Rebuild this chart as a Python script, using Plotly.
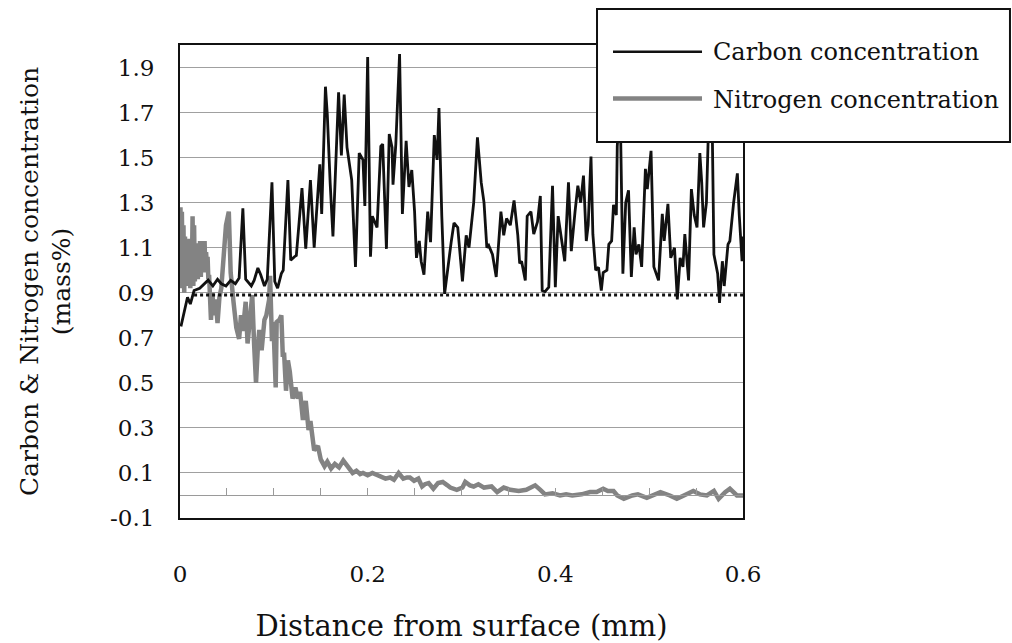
import plotly.graph_objects as go

# Carbon concentration profile (mass%) vs distance from surface (mm)
carbon_x = [0.001, 0.005, 0.008, 0.011, 0.015, 0.021, 0.025, 0.030, 0.035, 0.040,
            0.044, 0.049, 0.054, 0.059, 0.063, 0.067, 0.070, 0.076, 0.079, 0.083,
            0.086, 0.090, 0.093, 0.098, 0.101, 0.104, 0.108, 0.110, 0.115, 0.118,
            0.122, 0.124, 0.130, 0.134, 0.139, 0.143, 0.149, 0.151, 0.155, 0.157,
            0.160, 0.163, 0.169, 0.172, 0.175, 0.178, 0.183, 0.187, 0.191, 0.195,
            0.197, 0.200, 0.203, 0.205, 0.210, 0.214, 0.216, 0.220, 0.223, 0.226,
            0.227, 0.230, 0.234, 0.237, 0.241, 0.244, 0.247, 0.250, 0.252, 0.255,
            0.257, 0.260, 0.264, 0.267, 0.271, 0.274, 0.276, 0.279, 0.282, 0.286,
            0.289, 0.292, 0.296, 0.301, 0.305, 0.308, 0.313, 0.317, 0.321, 0.324,
            0.327, 0.329, 0.333, 0.337, 0.342, 0.345, 0.348, 0.352, 0.356, 0.360,
            0.362, 0.364, 0.368, 0.370, 0.374, 0.377, 0.381, 0.384, 0.386, 0.389,
            0.393, 0.397, 0.400, 0.403, 0.407, 0.410, 0.414, 0.417, 0.421, 0.424,
            0.427, 0.430, 0.433, 0.435, 0.438, 0.440, 0.443, 0.446, 0.449, 0.451,
            0.455, 0.457, 0.460, 0.462, 0.465, 0.466, 0.469, 0.472, 0.475, 0.478,
            0.481, 0.484, 0.486, 0.489, 0.492, 0.496, 0.498, 0.502, 0.505, 0.510,
            0.514, 0.516, 0.520, 0.523, 0.527, 0.530, 0.533, 0.536, 0.538, 0.542,
            0.545, 0.548, 0.551, 0.554, 0.556, 0.558, 0.561, 0.564, 0.567, 0.569,
            0.573, 0.575, 0.578, 0.580, 0.584, 0.586, 0.590, 0.594, 0.596, 0.599,
            0.600]
carbon_y = [0.75, 0.82, 0.88, 0.85, 0.91, 0.92, 0.935, 0.956, 0.93, 0.96,
            0.94, 0.93, 0.955, 0.94, 0.965, 1.275, 0.96, 0.93, 0.955, 1.01,
            0.98, 0.93, 0.96, 1.39, 0.95, 0.92, 0.985, 1.0, 1.40, 1.045,
            1.06, 1.066, 1.365, 1.096, 1.40, 1.10, 1.47, 1.25, 1.815, 1.69,
            1.39, 1.15, 1.79, 1.51, 1.78, 1.545, 1.40, 1.015, 1.52, 1.49,
            1.285, 1.947, 1.06, 1.24, 1.19, 1.55, 1.56, 1.095, 1.605, 1.545,
            1.38, 1.56, 1.96, 1.25, 1.575, 1.37, 1.445, 1.26, 1.055, 1.13,
            1.04, 0.98, 1.26, 1.125, 1.60, 1.49, 1.72, 1.24, 0.895, 1.04,
            1.125, 1.21, 1.19, 0.95, 1.155, 1.10, 1.30, 1.59, 1.39, 1.30,
            1.10, 1.11, 1.07, 0.97, 1.26, 1.155, 1.23, 1.20, 1.31, 1.155,
            1.03, 1.04, 0.955, 1.24, 1.26, 1.16, 1.215, 1.33, 0.91, 0.905,
            0.925, 1.375, 0.925, 1.24, 1.13, 1.04, 1.39, 1.085, 1.26, 1.375,
            1.30, 1.42, 1.13, 1.20, 1.505, 1.16, 1.0, 1.013, 0.91, 0.99,
            1.0, 1.115, 1.13, 1.29, 1.245, 1.55, 1.75, 0.985, 1.30, 1.355,
            0.97, 1.19, 1.07, 1.115, 1.015, 1.45, 1.36, 1.53, 1.015, 0.955,
            1.25, 1.13, 1.295, 1.055, 1.10, 0.87, 1.055, 1.015, 1.16, 0.955,
            1.36, 1.245, 1.19, 1.52, 1.39, 1.19, 1.30, 1.75, 1.70, 1.07,
            0.985, 0.855, 1.04, 0.93, 1.115, 1.13, 1.30, 1.43, 1.245, 1.04,
            1.15]

# Nitrogen concentration profile (mass%)
nitrogen_x = [0.0005, 0.0013, 0.002, 0.0028, 0.0037, 0.0045, 0.0053, 0.0062, 0.0070, 0.0078,
              0.0086, 0.0094, 0.0102, 0.0110, 0.0118, 0.0126, 0.0134, 0.0142, 0.0150, 0.0158,
              0.0166, 0.0174, 0.0182, 0.0190, 0.0198, 0.0206, 0.0214, 0.0222, 0.0230, 0.0238,
              0.0246, 0.0254, 0.0262, 0.0270, 0.0278, 0.0286, 0.0294, 0.0302, 0.031, 0.033,
              0.0345, 0.036, 0.038, 0.040, 0.042, 0.044, 0.047, 0.049, 0.052, 0.054,
              0.057, 0.060, 0.063, 0.065,
              0.067, 0.069, 0.070, 0.072, 0.075, 0.077, 0.079, 0.081, 0.083, 0.0845,
              0.087, 0.090, 0.092, 0.095, 0.096, 0.098, 0.0995, 0.102, 0.103, 0.106,
              0.108, 0.1095, 0.111, 0.113, 0.115, 0.117, 0.120, 0.123, 0.1255, 0.128,
              0.131, 0.134, 0.137, 0.139, 0.143, 0.147, 0.150, 0.154, 0.157, 0.161,
              0.165, 0.1695, 0.174, 0.177, 0.181, 0.184, 0.188, 0.192, 0.195, 0.200,
              0.205, 0.210, 0.214, 0.219, 0.224, 0.228, 0.233, 0.238, 0.242, 0.245,
              0.2495, 0.254, 0.258, 0.261, 0.265, 0.270, 0.275, 0.280, 0.285, 0.288,
              0.295, 0.301, 0.304, 0.309, 0.313, 0.318, 0.324, 0.332, 0.338, 0.345,
              0.352, 0.361, 0.369, 0.3785, 0.384, 0.389, 0.397, 0.405, 0.4115, 0.418,
              0.428, 0.437, 0.444, 0.451, 0.456, 0.462, 0.466, 0.473, 0.482, 0.488,
              0.4975, 0.505, 0.512, 0.522, 0.5295, 0.537, 0.547, 0.554, 0.5615, 0.569,
              0.574, 0.581, 0.586, 0.5935, 0.600]
nitrogen_y = [1.28, 0.92, 1.26, 0.95, 1.20, 0.90, 1.15, 0.93, 1.12, 0.96,
              1.08, 0.94, 1.14, 0.92, 1.10, 0.95, 1.24, 0.93, 1.20, 0.95,
              1.06, 0.98, 1.12, 0.96, 1.10, 0.98, 1.13, 0.97, 1.12, 0.99,
              1.10, 1.00, 1.13, 0.99, 1.08, 1.02, 1.06, 0.96, 0.98, 0.78,
              0.90, 0.80, 0.87, 0.765, 0.88, 0.92, 1.11, 1.20, 1.26, 0.99,
              0.86, 0.745, 0.695, 0.80,
              0.73, 0.84, 0.86, 0.675, 0.83, 0.89, 0.67, 0.50, 0.66, 0.735,
              0.645, 0.78, 0.80, 0.87, 0.975, 0.685, 0.77, 0.48, 0.77, 0.78,
              0.80, 0.625, 0.625, 0.465, 0.60, 0.55, 0.43, 0.48, 0.43, 0.46,
              0.335, 0.42, 0.29, 0.33, 0.20, 0.22, 0.16, 0.13, 0.15, 0.12,
              0.14, 0.125, 0.155, 0.14, 0.12, 0.10, 0.11, 0.095, 0.10, 0.09,
              0.10, 0.09, 0.085, 0.075, 0.08, 0.07, 0.10, 0.075, 0.08, 0.08,
              0.065, 0.075, 0.04, 0.05, 0.055, 0.03, 0.055, 0.06, 0.045, 0.035,
              0.025, 0.035, 0.06, 0.045, 0.04, 0.05, 0.035, 0.04, 0.015, 0.035,
              0.025, 0.02, 0.025, 0.045, 0.025, 0.005, 0.01, 0.0, 0.005, 0.0,
              0.005, 0.015, 0.015, 0.03, 0.02, 0.02, 0.0, -0.015, 0.0, 0.005,
              -0.01, 0.005, 0.015, 0.0, -0.015, 0.0, 0.02, 0.005, 0.0, 0.02,
              -0.015, 0.015, 0.03, 0.0, 0.0]

# Base carbon level of the steel (dotted reference)
base_x = [0.015, 0.600]
base_y = [0.89, 0.89]

y_ticks = [-0.1, 0.1, 0.3, 0.5, 0.7, 0.9, 1.1, 1.3, 1.5, 1.7, 1.9]
x_ticks = [0, 0.2, 0.4, 0.6]
x_tick_text = ["0", "0.2", "0.4", "0.6"]

FONT = "DejaVu Serif"
INK = "#111111"

fig = go.Figure()
fig.add_trace(go.Scatter(x=nitrogen_x, y=nitrogen_y, mode="lines",
                         line=dict(color="#838383", width=4.5),
                         name="Nitrogen concentration", showlegend=False))
fig.add_trace(go.Scatter(x=carbon_x, y=carbon_y, mode="lines",
                         line=dict(color=INK, width=2.8),
                         name="Carbon concentration", showlegend=False))
fig.add_trace(go.Scatter(x=base_x, y=base_y, mode="lines", xaxis="x2",
                         line=dict(color=INK, width=3, dash="dot"),
                         showlegend=False))

fig.update_layout(
    width=1012, height=643,
    margin=dict(l=180, r=269, t=45, b=125, autoexpand=False),
    paper_bgcolor="white", plot_bgcolor="white",
    font=dict(family=FONT, size=23, color=INK),
    xaxis=dict(range=[0, 0.6], tickvals=x_ticks, ticktext=x_tick_text,
               showgrid=False, zeroline=False, ticks="",
               showline=True, linecolor=INK, linewidth=2, mirror=True,
               ticklabelstandoff=34,
               title=dict(text="Distance from surface (mm)",
                          font=dict(family=FONT, size=29), standoff=32)),
    xaxis2=dict(range=[0, 0.6], matches="x", overlaying="x", anchor="free",
                position=0.1 / 2.1, side="bottom",
                showline=True, linecolor="#9a9a9a", linewidth=1,
                ticks="inside", ticklen=7, tickcolor="#9a9a9a", tickwidth=1,
                tick0=0, dtick=0.05, showticklabels=False,
                showgrid=False, zeroline=False),
    yaxis=dict(range=[-0.1, 2.0], tickvals=y_ticks,
               ticktext=[f"{v:.1f}" for v in y_ticks],
               showgrid=True, gridcolor="#a0a0a0", gridwidth=1,
               zeroline=False, ticks="",
               showline=True, linecolor=INK, linewidth=2, mirror=True,
               ticklabelstandoff=19,
               title=dict(text="Carbon & Nitrogen concentration<br>(mass%)",
                          font=dict(family=FONT, size=25), standoff=32)),
)

# Boxed legend in the upper right, overlapping the frame
fig.add_shape(type="rect", xref="paper", yref="paper",
              x0=0.7407, x1=1.4742, y0=0.7949, y1=1.0761,
              line=dict(color=INK, width=2), fillcolor="white", layer="above")
fig.add_shape(type="line", xref="paper", yref="paper",
              x0=0.7691, x1=0.9272, y0=0.9858, y1=0.9858,
              line=dict(color=INK, width=2.4), layer="above")
fig.add_shape(type="line", xref="paper", yref="paper",
              x0=0.7691, x1=0.9272, y0=0.8869, y1=0.8869,
              line=dict(color="#838383", width=4.5), layer="above")
fig.add_annotation(xref="paper", yref="paper", x=0.9432, y=0.9852,
                   xanchor="left", yanchor="middle", showarrow=False,
                   text="Carbon concentration", font=dict(family=FONT, size=24))
fig.add_annotation(xref="paper", yref="paper", x=0.9432, y=0.8837,
                   xanchor="left", yanchor="middle", showarrow=False,
                   text="Nitrogen concentration", font=dict(family=FONT, size=24))

fig.write_html("out.html")
